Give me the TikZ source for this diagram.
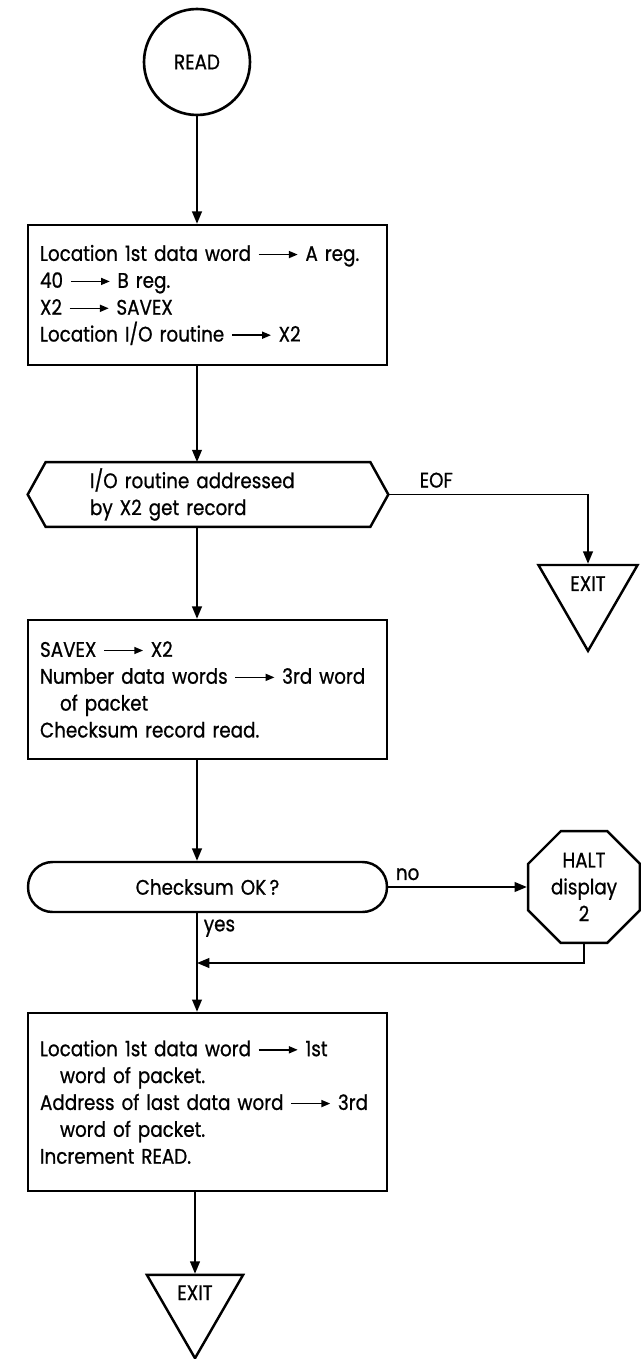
\documentclass[tikz,border=0pt]{standalone}
\usepackage{fontspec}
\setmainfont{Poppins}[FakeStretch=0.87, FakeBold=0.8]
\usepackage{tikz}
\usetikzlibrary{shapes.geometric, arrows.meta, positioning}

\newcommand{\yields}{\tikz[baseline=-0.55ex, x=1cm, y=1cm]\draw[-{Triangle[length=5pt,width=4pt]}, line width=0.8pt] (0,0) -- (0.78cm,0);}

\begin{document}
\begin{tikzpicture}[
      x=0.02cm, y=-0.02cm,
      every node/.style={font=\fontsize{12}{15.3}\selectfont},
      term/.style={circle, draw, line width=1.5pt, minimum size=2.12cm, inner sep=0pt},
      proc/.style={rectangle, draw, line width=1.4pt, text width=6.7cm, inner xsep=0.24cm, align=left, minimum width=7.18cm},
      io/.style={rectangle, text width=4.72cm, inner xsep=1.24cm, align=left, minimum height=1.1cm},
      decision/.style={rectangle, draw, line width=1.4pt, rounded corners=0.49cm, text width=6.7cm, inner xsep=0.24cm, align=center, minimum height=1cm},
      halt/.style={regular polygon, regular polygon sides=8, draw, line width=1.4pt, minimum size=2.42cm, inner sep=0pt, align=center},
      exitbox/.style={regular polygon, regular polygon sides=3, shape border rotate=180, draw, line width=1.4pt, inner sep=0pt},
      arrow/.style={-{Triangle[length=7pt,width=5.5pt]}, line width=1.1pt},
      line/.style={line width=1.1pt}
    ]
    \useasboundingbox (0,0) rectangle (641,1359);

    % Nodes
    \node[term] (read) at (197,62) {READ};

    \node[proc, minimum height=2.8cm] (setup) at (207.5,295) {Location 1st data word \yields\ A reg.\\
      40 \yields\ B reg.\\
      X2 \yields\ SAVEX\\
      Location I/O routine \yields\ X2};

    \node[io] (getrec) at (208,494.5) {I/O routine addressed\\by X2 get record};
    \draw[line width=1.4pt] (getrec.west) -- ([xshift=0.36cm]getrec.north west) -- ([xshift=-0.36cm]getrec.north east)
      -- (getrec.east) -- ([xshift=-0.36cm]getrec.south east) -- ([xshift=0.36cm]getrec.south west) -- cycle;

    \node[exitbox, minimum size=2.29cm] (eofexit) at (588,593.6) {\raisebox{0.2cm}[\height][\depth]{EXIT}};

    \node[proc, minimum height=2.78cm] (restore) at (207.5,689.5) {SAVEX \yields\ X2\\
      Number data words \yields\ 3rd word\\
      \hspace*{0.4cm}of packet\\
      Checksum record read.};

    \node[decision] (check) at (207.5,887) {Checksum OK\,?\hspace*{0.3cm}};

    \node[halt] (stop) at (584,887) {HALT\\display\\2};

    \node[proc, minimum height=3.56cm] (packet) at (207.5,1102) {Location 1st data word \yields\ 1st\\
      \hspace*{0.4cm}word of packet.\\
      Address of last data word \yields\ 3rd\\
      \hspace*{0.4cm}word of packet.\\
      Increment READ.};

    \node[exitbox, minimum size=2.22cm] (done) at (195,1302.7) {\raisebox{0.2cm}[\height][\depth]{EXIT}};

    \coordinate (join) at (197,963);

    % Arrows
    \draw[arrow] (read.south) -- (setup.north -| read.south);
    \draw[arrow] (setup.south -| read.south) -- (getrec.north -| read.south);
    \draw[arrow] (getrec.east) -| node[pos=0.12, above] {EOF} (eofexit.north);
    \draw[arrow] (getrec.south -| read.south) -- (restore.north -| read.south);
    \draw[arrow] (restore.south -| read.south) -- (check.north -| read.south);
    \draw[arrow] (check.east) -- node[pos=0.14, above] {no} (stop.west);
    \draw[line] (check.south -| read.south) -- node[pos=0.3, right] {yes} (join);
    \draw[arrow] (stop.south) |- (join);
    \draw[arrow] (join) -- (packet.north -| read.south);
    \draw[arrow] (packet.south -| done.north) -- (done.north);

\end{tikzpicture}
\end{document}
